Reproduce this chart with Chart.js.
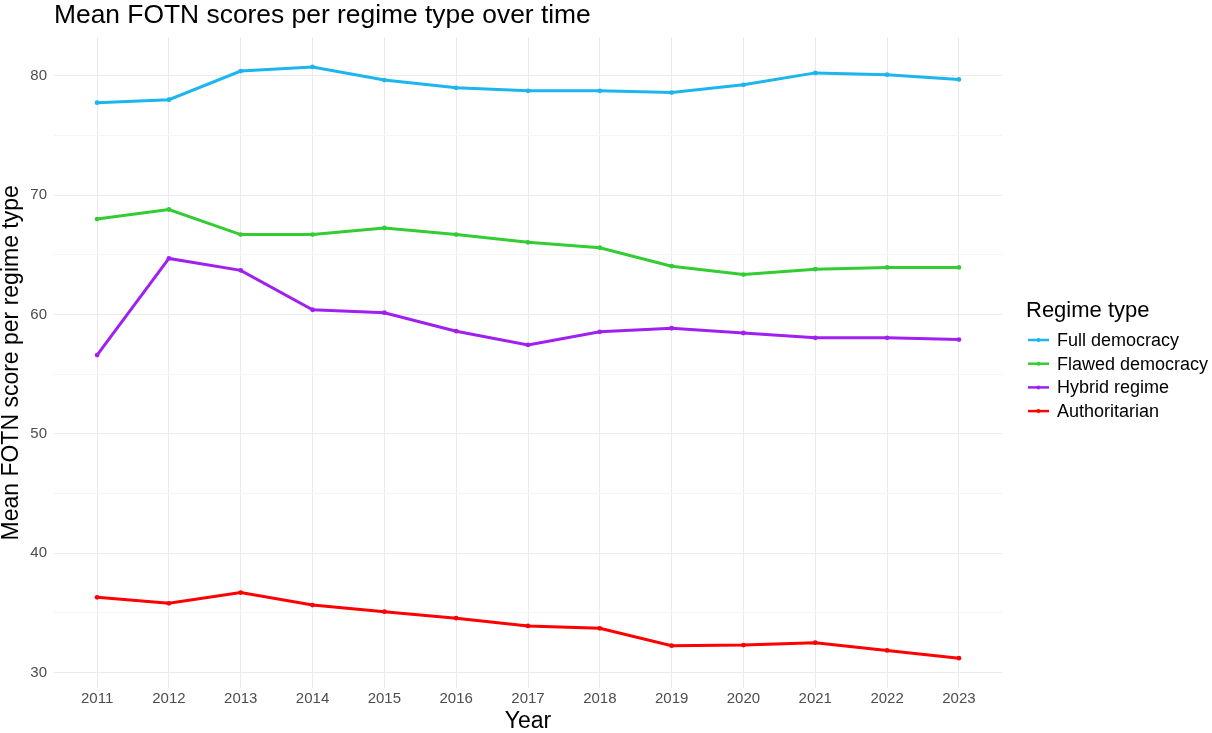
<!DOCTYPE html>
<html><head><meta charset="utf-8">
<script src="https://cdn.jsdelivr.net/npm/chart.js@4"></script>
<style>html,body{margin:0;padding:0;background:#fff}#wrap{width:1212px;height:733px;position:relative}</style>
</head><body><div id="wrap"><canvas id="c" width="1212" height="733"></canvas></div>
<script>
const years = [2011,2012,2013,2014,2015,2016,2017,2018,2019,2020,2021,2022,2023];
const seriesNames = ["Full democracy","Flawed democracy","Hybrid regime","Authoritarian"];
const fullDemocracy   = [77.75,78.0,80.4,80.75,79.65,79.0,78.75,78.75,78.6,79.25,80.25,80.1,79.7];
const flawedDemocracy = [68.0,68.8,66.7,66.7,67.25,66.7,66.05,65.6,64.05,63.35,63.8,63.95,63.95];
const hybridRegime    = [56.6,64.7,63.7,60.4,60.15,58.6,57.45,58.55,58.85,58.45,58.05,58.05,57.9];
const authoritarian   = [36.3,35.8,36.7,35.65,35.1,34.55,33.9,33.7,32.25,32.3,32.5,31.85,31.2];
const yTicks = [30,35,40,45,50,55,60,65,70,75,80];
const colors = ["#1CB5EE","#33CC33","#A020F0","#FF0000"];
const allSeries = [fullDemocracy, flawedDemocracy, hybridRegime, authoritarian];

const FONT = "'Liberation Sans', Arial, sans-serif";

const titleAlignPlugin = {
  id: 'titleAlign',
  afterLayout(chart) {
    if (chart.titleBlock) { chart.titleBlock.left = chart.chartArea.left; }
  }
};

const legendPlugin = {
  id: 'customLegend',
  afterDraw(chart) {
    const ctx = chart.ctx;
    ctx.save();
    ctx.fillStyle = '#000';
    ctx.font = '22px ' + FONT;
    ctx.textBaseline = 'middle';
    ctx.textAlign = 'left';
    ctx.fillText('Regime type', 1026, 311);
    ctx.font = '18px ' + FONT;
    chart.data.datasets.forEach((ds, i) => {
      const y = 340 + i * 23.7;
      ctx.strokeStyle = ds.borderColor;
      ctx.lineWidth = 2.5;
      ctx.beginPath(); ctx.moveTo(1028, y); ctx.lineTo(1049, y); ctx.stroke();
      ctx.fillStyle = ds.borderColor;
      ctx.beginPath(); ctx.arc(1038.5, y, 2, 0, Math.PI*2); ctx.fill();
      ctx.fillStyle = '#000';
      ctx.fillText(ds.label, 1057, y + 1);
    });
    ctx.restore();
  }
};

new Chart(document.getElementById('c'), {
  type: 'line',
  data: {
    datasets: seriesNames.map((name, i) => ({
      label: name,
      data: years.map((yr, j) => ({x: yr, y: allSeries[i][j]})),
      borderColor: colors[i],
      backgroundColor: colors[i],
      borderWidth: 3,
      pointRadius: 2.4,
      pointBorderWidth: 0,
      pointHoverRadius: 2.4,
      tension: 0
    }))
  },
  options: {
    responsive: false,
    animation: false,
    events: [],
    layout: { padding: { left: 0, right: 210, top: 0, bottom: 0 } },
    plugins: {
      legend: { display: false },
      tooltip: { enabled: false },
      title: {
        display: true,
        text: 'Mean FOTN scores per regime type over time',
        align: 'start',
        color: '#000',
        font: { family: FONT, size: 26.4, weight: 'normal', lineHeight: 1.2 },
        padding: { top: 0, bottom: 6 }
      }
    },
    scales: {
      x: {
        type: 'linear',
        min: 2010.4, max: 2023.6,
        afterBuildTicks: s => { s.ticks = years.map(v => ({value: v})); },
        grid: { color: '#EBEBEB', lineWidth: 1, drawTicks: false },
        border: { display: false },
        ticks: { color: '#4D4D4D', font: { family: FONT, size: 15 }, padding: 2, maxRotation: 0, callback: v => String(v) },
        title: { display: true, text: 'Year', color: '#000', font: { family: FONT, size: 23, lineHeight: 1.0 }, padding: { top: 0, bottom: 0 } }
      },
      y: {
        min: 28.7, max: 83.2,
        afterBuildTicks: s => { s.ticks = yTicks.map(v => ({value: v})); },
        afterFit: s => { s.width = 54; },
        grid: { color: ctx => (ctx.tick && ctx.tick.value % 10 === 0) ? '#EBEBEB' : '#F5F5F5', lineWidth: 1, drawTicks: false },
        border: { display: false },
        ticks: { color: '#4D4D4D', font: { family: FONT, size: 15 }, padding: 7, callback: v => (v % 10 === 0 ? String(v) : '') },
        title: { display: true, text: 'Mean FOTN score per regime type', color: '#000', font: { family: FONT, size: 23, lineHeight: 1.0 }, padding: { top: 0, bottom: 0 } }
      }
    }
  },
  plugins: [titleAlignPlugin, legendPlugin]
});
</script></body></html>
